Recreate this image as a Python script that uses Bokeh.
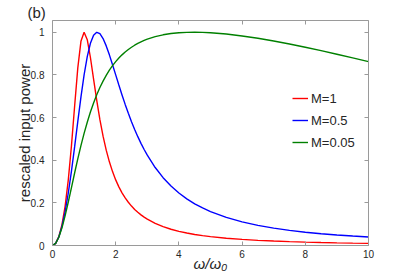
from bokeh.plotting import figure
from bokeh.models import Range1d, LinearAxis, FixedTicker, Legend, LegendItem
from bokeh.embed import file_html
from bokeh.resources import INLINE

# ---- data ----
omega = [0, 0.1, 0.2, 0.3, 0.4, 0.5, 0.6, 0.7, 0.8, 0.9,
         1.0, 1.1, 1.2, 1.3, 1.4, 1.5, 1.6, 1.7, 1.8, 1.9,
         2.0, 2.1, 2.2, 2.3, 2.4, 2.5, 2.6, 2.7, 2.8, 2.9,
         3.0, 3.25, 3.5, 3.75, 4.0, 4.25, 4.5, 4.75, 5.0,
         5.5, 6.0, 6.5, 7.0, 7.5, 8.0, 8.5, 9.0, 9.5, 10.0]

power_m1 = [0, 0.0101, 0.0416, 0.0980, 0.1848, 0.3077, 0.4678, 0.6532, 0.8316, 0.9573,
            1.0, 0.9648, 0.8815, 0.7802, 0.6802, 0.5902, 0.5127, 0.4472, 0.3924, 0.3464,
            0.3077, 0.2750, 0.2471, 0.2233, 0.2027, 0.1848, 0.1693, 0.1556, 0.1435, 0.1328,
            0.1233, 0.1036, 0.0882, 0.0761, 0.0664, 0.0584, 0.0518, 0.0463, 0.0416,
            0.0341, 0.0285, 0.0242, 0.0208, 0.0181, 0.0159, 0.0140, 0.0125, 0.0112, 0.0101]

power_m05 = [0, 0.0100, 0.0400, 0.0898, 0.1590, 0.2462, 0.3487, 0.4623, 0.5806, 0.6959,
             0.8000, 0.8858, 0.9484, 0.9860, 0.9998, 0.9931, 0.9703, 0.9359, 0.8939, 0.8478,
             0.8000, 0.7523, 0.7059, 0.6616, 0.6197, 0.5806, 0.5441, 0.5103, 0.4790, 0.4502,
             0.4235, 0.3656, 0.3181, 0.2788, 0.2462, 0.2188, 0.1956, 0.1759, 0.1590,
             0.1317, 0.1108, 0.0945, 0.0815, 0.0710, 0.0624, 0.0553, 0.0494, 0.0443, 0.0400]

power_m005 = [0, 0.0099, 0.0386, 0.0833, 0.1398, 0.2040, 0.2718, 0.3399, 0.4058, 0.4680,
              0.5256, 0.5782, 0.6258, 0.6685, 0.7067, 0.7407, 0.7710, 0.7979, 0.8219, 0.8431,
              0.8621, 0.8789, 0.8939, 0.9072, 0.9191, 0.9297, 0.9391, 0.9475, 0.9550, 0.9616,
              0.9675, 0.9794, 0.9879, 0.9938, 0.9975, 0.9995, 1.0000, 0.9993, 0.9975,
              0.9914, 0.9825, 0.9715, 0.9589, 0.9448, 0.9297, 0.9137, 0.8970, 0.8797, 0.8621]

series_labels = ["M=1", "M=0.5", "M=0.05"]
series_colors = ["#ff0000", "#0000ff", "#008000"]
x_ticks = [0, 2, 4, 6, 8, 10]
y_ticks = [0, 0.2, 0.4, 0.6, 0.8, 1]
y_tick_labels = ["0", "0.2", "0.4", "0.6", "0.8", "1"]

FONT = "Liberation Sans"
AXIS_COL = "#9a9a9a"
TEXT_COL = "#262626"

p = figure(width=407, height=276, x_range=Range1d(0, 10), y_range=Range1d(0, 1.055),
           output_backend="svg", toolbar_location=None,
           min_border_left=52, min_border_right=39, min_border_top=20, min_border_bottom=31)
p.grid.visible = False
p.outline_line_color = None
p.background_fill_color = "white"
p.border_fill_color = "white"

p.title.text = "(b)"
p.title.align = "left"
p.title.offset = -25
p.title.standoff = 0
p.title.text_font = FONT
p.title.text_font_size = "15px"
p.title.text_font_style = "normal"
p.title.text_color = TEXT_COL

def style_axis(ax, ticks):
    ax.ticker = FixedTicker(ticks=ticks)
    ax.axis_line_color = AXIS_COL
    ax.axis_line_width = 1
    ax.major_tick_line_color = AXIS_COL
    ax.major_tick_in = 4
    ax.major_tick_out = 0
    ax.minor_tick_line_color = None
    ax.major_label_text_font = FONT
    ax.major_label_text_color = TEXT_COL
    ax.major_label_text_font_size = "10px"

xa = p.xaxis[0]
ya = p.yaxis[0]
style_axis(xa, x_ticks)
style_axis(ya, y_ticks)
xa.major_label_standoff = 4
ya.major_label_standoff = 8
xa.major_label_overrides = {t: str(t) for t in x_ticks}
ya.major_label_overrides = {t: s for t, s in zip(y_ticks, y_tick_labels)}

xa.axis_label = "ω/ω₀"
xa.axis_label_text_font = FONT
xa.axis_label_text_font_size = "15px"
xa.axis_label_text_font_style = "italic"
xa.axis_label_text_color = TEXT_COL
xa.axis_label_standoff = -6

ya.axis_label = "rescaled input power"
ya.axis_label_text_font = FONT
ya.axis_label_text_font_size = "15px"
ya.axis_label_text_font_style = "normal"
ya.axis_label_text_color = TEXT_COL
ya.axis_label_standoff = -5

top_ax = LinearAxis()
right_ax = LinearAxis()
style_axis(top_ax, x_ticks)
style_axis(right_ax, y_ticks)
top_ax.major_label_overrides = {t: "" for t in x_ticks}
right_ax.major_label_overrides = {t: "" for t in y_ticks}
top_ax.major_label_standoff = 0
right_ax.major_label_standoff = 0
p.add_layout(top_ax, "above")
p.add_layout(right_ax, "right")

renderers = []
for ys, col in zip([power_m1, power_m05, power_m005], series_colors):
    r = p.line(omega, ys, line_color=col, line_width=1.4)
    renderers.append(r)

legend = Legend(items=[LegendItem(label=lab, renderers=[r]) for lab, r in zip(series_labels, renderers)],
                location=(240, 93), padding=0, margin=0, spacing=2,
                glyph_width=16, glyph_height=20, label_height=20, label_standoff=3,
                label_text_font=FONT, label_text_font_size="13px", label_text_color=TEXT_COL,
                background_fill_alpha=0, border_line_alpha=0)
p.add_layout(legend)

open("out.html", "w").write(file_html(p, INLINE))
